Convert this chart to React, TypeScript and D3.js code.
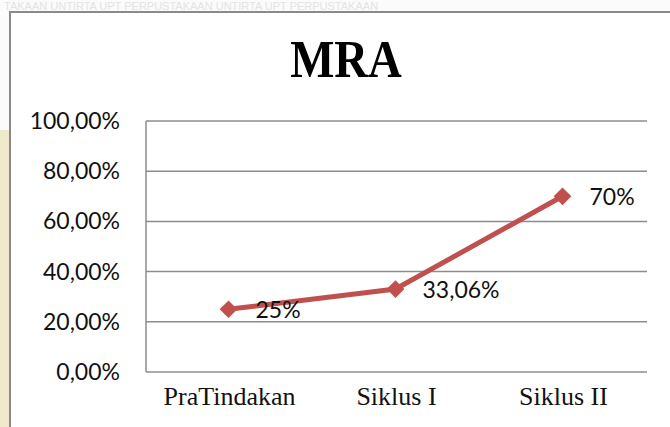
import React, { useEffect, useRef } from "react";
import * as d3 from "d3";

const categories = ["PraTindakan", "Siklus I", "Siklus II"];
const values = [25, 33.06, 70];
const valueLabels = ["25%", "33,06%", "70%"];
const yTicks = [0, 20, 40, 60, 80, 100];
const title = "MRA";
const watermark = "TAKAAN UNTIRTA   UPT PERPUSTAKAAN UNTIRTA   UPT PERPUSTAKAAN";

const App = () => {
  const svgRef = useRef(null);

  useEffect(() => {
    const svg = d3.select(svgRef.current);
    svg.selectAll("*").remove();

    // page background with faint watermark
    svg.append("rect").attr("width", 670).attr("height", 427).attr("fill", "#fbfbfb");
    svg.append("rect").attr("x", 0).attr("y", 130).attr("width", 9).attr("height", 297).attr("fill", "#efeacb");
    svg.append("text")
      .attr("x", 4).attr("y", 10)
      .attr("font-family", "Liberation Sans")
      .attr("font-size", 11)
      .attr("fill", "#e4e4e4")
      .text(watermark);

    // chart frame
    svg.append("rect")
      .attr("x", 10).attr("y", 12)
      .attr("width", 700).attr("height", 500)
      .attr("fill", "white")
      .attr("stroke", "#8a8a8a")
      .attr("stroke-width", 2);

    svg.append("text")
      .attr("transform", "translate(346,77) scale(0.9,1)")
      .attr("text-anchor", "middle")
      .attr("font-family", "Liberation Serif")
      .attr("font-weight", "bold")
      .attr("font-size", 52)
      .text(title);

    const x = d3.scaleBand()
      .domain(categories)
      .range([146, 647]);

    const y = d3.scaleLinear()
      .domain([0, 100])
      .range([372, 121]);

    // gridlines
    svg.selectAll("line.grid")
      .data(yTicks)
      .join("line")
      .attr("class", "grid")
      .attr("x1", 146).attr("x2", 647)
      .attr("y1", d => y(d)).attr("y2", d => y(d))
      .attr("stroke", "#8c8c8c")
      .attr("stroke-width", 1.5);

    svg.append("line")
      .attr("x1", 146).attr("x2", 146)
      .attr("y1", y(100)).attr("y2", y(0))
      .attr("stroke", "#8c8c8c")
      .attr("stroke-width", 1.5);

    // y labels
    svg.selectAll("text.ylab")
      .data(yTicks)
      .join("text")
      .attr("class", "ylab")
      .attr("x", 120)
      .attr("y", d => y(d) + 8)
      .attr("text-anchor", "end")
      .attr("font-family", "Lato")
      .attr("font-size", 23)
      .attr("fill", "#111")
      .text(d => d.toFixed(2).replace(".", ",") + "%");

    // x labels
    svg.selectAll("text.xlab")
      .data(categories)
      .join("text")
      .attr("class", "xlab")
      .attr("x", d => x(d) + x.bandwidth() / 2)
      .attr("y", 405)
      .attr("text-anchor", "middle")
      .attr("font-family", "Liberation Serif")
      .attr("font-size", 26)
      .attr("fill", "#111")
      .text(d => d);

    const cx = (i) => x(categories[i]) + x.bandwidth() / 2 - 1;

    const line = d3.line()
      .x((d, i) => cx(i))
      .y(d => y(d));

    svg.append("path")
      .datum(values)
      .attr("d", line)
      .attr("fill", "none")
      .attr("stroke", "#c0504d")
      .attr("stroke-width", 5);

    svg.selectAll("path.marker")
      .data(values)
      .join("path")
      .attr("class", "marker")
      .attr("d", d3.symbol().type(d3.symbolDiamond2).size(200))
      .attr("transform", (d, i) => `translate(${cx(i)},${y(d)})`)
      .attr("fill", "#c0504d");

    svg.selectAll("text.vlab")
      .data(values)
      .join("text")
      .attr("class", "vlab")
      .attr("x", (d, i) => cx(i) + 27)
      .attr("y", d => y(d) + 9)
      .attr("font-family", "Lato")
      .attr("font-size", 23)
      .attr("fill", "#111")
      .text((d, i) => valueLabels[i]);
  }, []);

  return (
    <svg
      ref={svgRef}
      width={670}
      height={427}
      style={{ position: "absolute", left: 0, top: 0 }}
    ></svg>
  );
};

export default App;
